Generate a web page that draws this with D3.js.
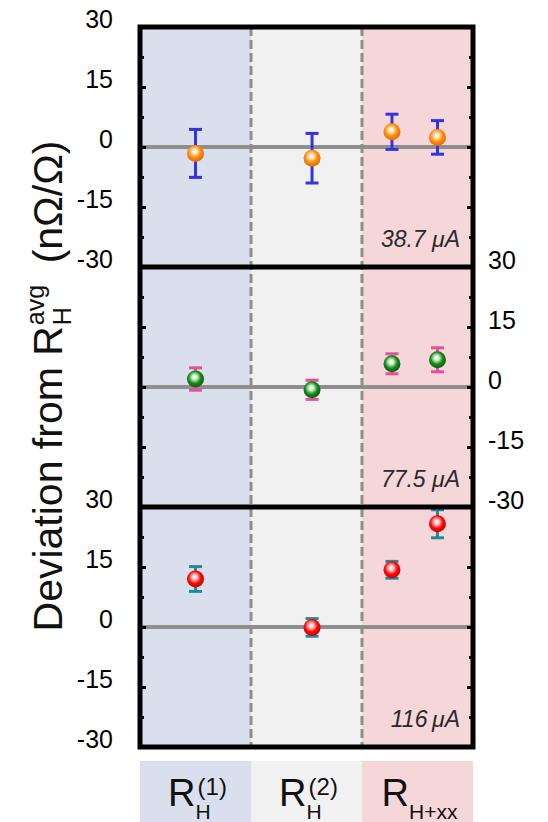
<!DOCTYPE html>
<html>
<head>
<meta charset="utf-8">
<script src="https://cdn.jsdelivr.net/npm/d3@7"></script>
<style>
body { margin: 0; background: #fff; }
svg { display: block; }
text { font-family: "Liberation Sans", Arial, sans-serif; }
</style>
</head>
<body>
<svg id="chart" width="548" height="822"></svg>
<script>
// categories (shaded regions) and their colours
var regionSub = ["H", "H", "H+xx"];
var regionSup = ["(1)", "(2)", ""];
var regionColors = ["#d9dfec", "#f1f1f1", "#f5d6d9"];

// panels, one per current
var currents = ["38.7 \u03bcA", "77.5 \u03bcA", "116\u2009\u03bcA"];

// x position of the four measurements (region units, 0..3)
var xPos = [0.5, 1.55, 2.27, 2.68];

// deviations (nOhm/Ohm) and error bars, per panel
var dev38 = [-1.6, -2.8, 3.8, 2.4];
var err38 = [6.0, 6.2, 4.4, 4.2];
var dev77 = [2.0, -0.7, 5.8, 6.8];
var err77 = [2.8, 2.4, 2.5, 3.0];
var dev116 = [12.0, -0.1, 14.3, 25.8];
var err116 = [3.1, 2.2, 2.1, 3.5];

var yTicks = [-30, -15, 0, 15, 30];
var yMinor = [-22.5, -7.5, 7.5, 22.5];

var panels = [
    {dev: dev38, err: err38, ball: ["#ffe2b8", "#ff8c0a", "#e06800"], bar: "#3434dc", side: "left"},
    {dev: dev77, err: err77, ball: ["#c8efc8", "#178a17", "#0b5a0b"], bar: "#e052a0", side: "right"},
    {dev: dev116, err: err116, ball: ["#ffc4c4", "#ff0a0a", "#c40000"], bar: "#23899b", side: "left"}
];

var plotLeft = 140, plotRight = 473, plotTop = 27, panelH = 240;
var plotBottom = plotTop + panelH * 3;

var svg = d3.select("#chart");
var defs = svg.append("defs");

var x = d3.scaleLinear().domain([0, 3]).range([plotLeft, plotRight]);

// backgrounds
svg.append("g")
    .selectAll("rect")
    .data(regionColors)
    .enter()
    .append("rect")
        .attr("x", (d, i) => x(i))
        .attr("y", plotTop)
        .attr("width", (d, i) => x(i + 1) - x(i))
        .attr("height", plotBottom - plotTop)
        .attr("fill", d => d);

// dashed separators
svg.append("g")
    .selectAll("line")
    .data([1, 2])
    .enter()
    .append("line")
        .attr("x1", d => x(d)).attr("x2", d => x(d))
        .attr("y1", plotTop).attr("y2", plotBottom)
        .attr("stroke", "#8e8e8e")
        .attr("stroke-width", 3)
        .attr("stroke-dasharray", "9,4");

panels.forEach(function(p, i) {
    var y = d3.scaleLinear()
        .domain([-30, 30])
        .range([plotTop + (i + 1) * panelH, plotTop + i * panelH]);

    var grad = defs.append("radialGradient")
        .attr("id", "ball" + i)
        .attr("cx", "45%").attr("cy", "42%").attr("r", "60%")
        .attr("fx", "45%").attr("fy", "38%");
    grad.append("stop").attr("offset", "0%").attr("stop-color", "#ffffff");
    grad.append("stop").attr("offset", "25%").attr("stop-color", p.ball[0]);
    grad.append("stop").attr("offset", "60%").attr("stop-color", p.ball[1]);
    grad.append("stop").attr("offset", "100%").attr("stop-color", p.ball[2]);

    var g = svg.append("g");

    // zero line
    g.append("line")
        .attr("x1", plotLeft).attr("x2", plotRight)
        .attr("y1", y(0)).attr("y2", y(0))
        .attr("stroke", "#8e8e8e")
        .attr("stroke-width", 4);

    var pts = p.dev.map((v, k) => ({x: xPos[k], v: v, e: p.err[k]}));

    var eb = g.selectAll(".eb")
        .data(pts)
        .enter()
        .append("g")
            .attr("stroke", p.bar)
            .attr("stroke-width", 3);
    eb.append("line")
        .attr("x1", d => x(d.x)).attr("x2", d => x(d.x))
        .attr("y1", d => y(d.v - d.e)).attr("y2", d => y(d.v + d.e));
    eb.append("line")
        .attr("x1", d => x(d.x) - 6.5).attr("x2", d => x(d.x) + 6.5)
        .attr("y1", d => y(d.v + d.e)).attr("y2", d => y(d.v + d.e));
    eb.append("line")
        .attr("x1", d => x(d.x) - 6.5).attr("x2", d => x(d.x) + 6.5)
        .attr("y1", d => y(d.v - d.e)).attr("y2", d => y(d.v - d.e));

    g.selectAll("circle")
        .data(pts)
        .enter()
        .append("circle")
            .attr("cx", d => x(d.x))
            .attr("cy", d => y(d.v))
            .attr("r", 8.5)
            .attr("fill", "url(#ball" + i + ")");

    // axes: inward ticks on both sides, labels on one side
    var fmt = d => String(d);
    var axLeft = d3.axisLeft(y).tickValues(yTicks).tickSizeInner(-6).tickSizeOuter(0).tickPadding(27)
        .tickFormat(p.side == "left" ? fmt : "");
    var axRight = d3.axisRight(y).tickValues(yTicks).tickSizeInner(-6).tickSizeOuter(0).tickPadding(15)
        .tickFormat(p.side == "right" ? fmt : "");
    var minL = d3.axisLeft(y).tickValues(yMinor).tickSizeInner(-4).tickSizeOuter(0).tickFormat("");
    var minR = d3.axisRight(y).tickValues(yMinor).tickSizeInner(-4).tickSizeOuter(0).tickFormat("");

    [[axLeft, plotLeft], [minL, plotLeft], [axRight, plotRight], [minR, plotRight]].forEach(function(a) {
        var ag = svg.append("g")
            .attr("transform", `translate(${a[1]},0)`)
            .call(a[0]);
        ag.select(".domain").remove();
        ag.selectAll(".tick line").attr("stroke", "#000").attr("stroke-width", 3);
        ag.selectAll(".tick text")
            .attr("y", a[1] == plotLeft ? -8 : -7)
            .attr("fill", "#000")
            .style("font-size", "25px");
    });

    // current label
    svg.append("text")
        .attr("x", 460)
        .attr("y", plotTop + (i + 1) * panelH - 20)
        .attr("text-anchor", "end")
        .style("font-size", "23px")
        .style("font-style", "italic")
        .attr("fill", "#2a2a2a")
        .text(currents[i]);
});

// frame
svg.append("rect")
    .attr("x", plotLeft).attr("y", plotTop)
    .attr("width", plotRight - plotLeft).attr("height", plotBottom - plotTop)
    .attr("fill", "none")
    .attr("stroke", "#000")
    .attr("stroke-width", 5);
svg.append("g")
    .selectAll("line")
    .data([1, 2])
    .enter()
    .append("line")
        .attr("x1", plotLeft).attr("x2", plotRight)
        .attr("y1", d => plotTop + d * panelH).attr("y2", d => plotTop + d * panelH)
        .attr("stroke", "#000")
        .attr("stroke-width", 5);

// category boxes below
var cat = svg.append("g")
    .selectAll("g")
    .data(regionColors)
    .enter()
    .append("g");
cat.append("rect")
    .attr("x", (d, i) => x(i))
    .attr("y", 761)
    .attr("width", (d, i) => x(i + 1) - x(i))
    .attr("height", 61)
    .attr("fill", d => d);

cat.each(function(d, i) {
    var c = d3.select(this);
    var R = c.append("text")
        .attr("y", 806)
        .style("font-size", "38px")
        .attr("fill", "#111")
        .text("R");
    var wR = R.node().getComputedTextLength();
    var sub = c.append("text")
        .attr("y", 819)
        .style("font-size", "21px")
        .attr("fill", "#111")
        .text(regionSub[i]);
    var sup = c.append("text")
        .attr("y", 795)
        .style("font-size", "24px")
        .attr("fill", "#111")
        .text(regionSup[i]);
    var wSub = sub.node().getComputedTextLength();
    var wSup = sup.node().getComputedTextLength();
    var total = wR + Math.max(wSub, wSup + 2);
    var x0 = (x(i) + x(i + 1)) / 2 - total / 2 + 2;
    R.attr("x", x0);
    sub.attr("x", x0 + wR);
    sup.attr("x", x0 + wR + 2);
});

// y axis title, rotated
var tg = svg.append("g");
var t1 = tg.append("text").attr("y", 0).style("font-size", "41px").attr("fill", "#111")
    .text("Deviation from R");
var w1 = t1.node().getComputedTextLength();
var tSup = tg.append("text").attr("x", w1 + 1).attr("y", -18).style("font-size", "25px").attr("fill", "#111")
    .text("avg");
var tSub = tg.append("text").attr("x", w1 + 1).attr("y", 9).style("font-size", "25px").attr("fill", "#111")
    .text("H");
var w2 = Math.max(tSup.node().getComputedTextLength(), tSub.node().getComputedTextLength());
var t3 = tg.append("text").attr("x", w1 + w2 + 2).attr("y", 0).style("font-size", "41px").attr("fill", "#111")
    .text("\u2002(n\u03a9/\u03a9)");
var wAll = w1 + w2 + 2 + t3.node().getComputedTextLength();
tg.attr("transform", `translate(62,${386 + wAll / 2}) rotate(-90)`);
</script>
</body>
</html>
